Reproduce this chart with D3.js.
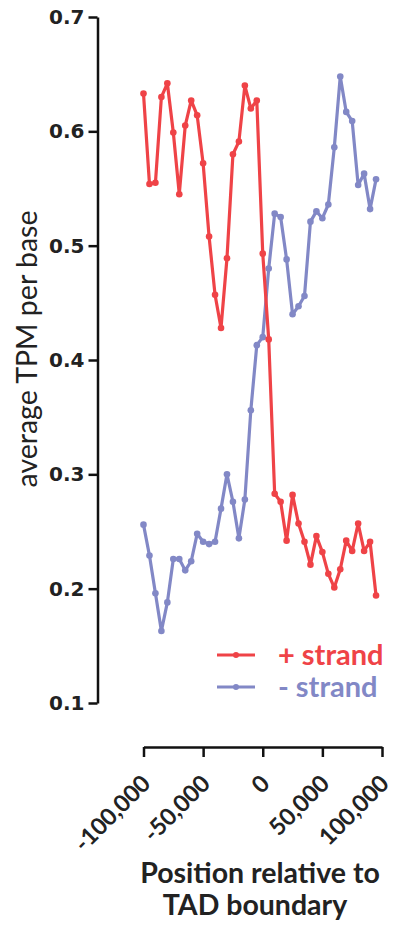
<!DOCTYPE html>
<html>
<head>
<meta charset="utf-8">
<script src="https://cdn.jsdelivr.net/npm/d3@7"></script>
<style>
  html, body { margin: 0; padding: 0; background: #fff; }
  svg { display: block; }
</style>
</head>
<body>
<svg id="chart" width="394" height="925"></svg>
<script>
// Positions (bp from TAD boundary), one bin every 5 kb
const positions = d3.range(-100000, 100000, 5000);

// Average TPM per base, + strand
const plusStrand = [
  0.633, 0.554, 0.555, 0.630, 0.642, 0.599, 0.545, 0.605, 0.627, 0.614,
  0.572, 0.508, 0.457, 0.428, 0.489, 0.580, 0.591, 0.640, 0.620, 0.627,
  0.493, 0.418, 0.283, 0.276, 0.242, 0.282, 0.257, 0.241, 0.221, 0.246,
  0.232, 0.213, 0.201, 0.217, 0.242, 0.233, 0.257, 0.233, 0.241, 0.194
];

// Average TPM per base, - strand
const minusStrand = [
  0.256, 0.229, 0.196, 0.163, 0.188, 0.226, 0.226, 0.216, 0.224, 0.248,
  0.241, 0.239, 0.241, 0.270, 0.300, 0.276, 0.244, 0.278, 0.356, 0.413,
  0.420, 0.480, 0.528, 0.525, 0.488, 0.440, 0.447, 0.456, 0.521, 0.530,
  0.524, 0.536, 0.586, 0.648, 0.617, 0.609, 0.553, 0.563, 0.532, 0.558
];

const xTicks = [-100000, -50000, 0, 50000, 100000];
const yTicks = [0.1, 0.2, 0.3, 0.4, 0.5, 0.6, 0.7];
const seriesNames = ["+ strand", "- strand"];

const RED = "#ef4347";
const BLUE = "#8288c6";

const svg = d3.select("#chart");

const x = d3.scaleLinear().domain([-100000, 100000]).range([143.5, 382]);
const y = d3.scaleLinear().domain([0.1, 0.7]).range([703, 17]);

const tickFont = "'DejaVu Sans', sans-serif";
const textFont = "Lato, sans-serif";

// thousands separator with a plain hyphen for negatives
const fmtX = d => d3.format(",")(d).replace("\u2212", "-");

// Y axis, drawn on its own offset from the plot
const yAxis = svg.append("g")
  .attr("transform", "translate(97.5,0)")
  .call(d3.axisLeft(y).tickValues(yTicks).tickFormat(d3.format(".1f")).tickSize(9).tickSizeOuter(0));
yAxis.select(".domain").attr("stroke", "#111").attr("stroke-width", 2.5);
yAxis.selectAll(".tick line").attr("stroke", "#111").attr("stroke-width", 2.5);
yAxis.selectAll(".tick text")
  .attr("x", -13)
  .attr("font-family", tickFont)
  .attr("font-weight", "bold")
  .attr("font-size", 20)
  .attr("fill", "#222");

// X axis below the plot
const xAxis = svg.append("g")
  .attr("transform", "translate(0,747)")
  .call(d3.axisBottom(x).tickValues(xTicks).tickFormat(fmtX).tickSize(10).tickSizeOuter(0));
xAxis.select(".domain").attr("stroke", "#111").attr("stroke-width", 2.5);
xAxis.selectAll(".tick line").attr("stroke", "#111").attr("stroke-width", 2.5);
xAxis.selectAll(".tick text")
  .attr("font-family", textFont)
  .attr("font-weight", "bold")
  .attr("font-size", 23.5)
  .attr("fill", "#222")
  .attr("text-anchor", "end")
  .attr("dy", null)
  .attr("y", 0)
  .attr("transform", "translate(8,38) rotate(-45)");

// Axis titles
svg.append("text")
  .attr("transform", "translate(37,349) rotate(-90)")
  .attr("text-anchor", "middle")
  .attr("font-family", textFont)
  .attr("font-size", 28.5)
  .attr("fill", "#222")
  .text("average TPM per base");

svg.append("text")
  .attr("x", 260).attr("y", 883)
  .attr("text-anchor", "middle")
  .attr("font-family", textFont)
  .attr("font-weight", "bold")
  .attr("font-size", 28.5)
  .attr("fill", "#222")
  .text("Position relative to");
svg.append("text")
  .attr("x", 255).attr("y", 915)
  .attr("text-anchor", "middle")
  .attr("font-family", textFont)
  .attr("font-weight", "bold")
  .attr("font-size", 28.5)
  .attr("fill", "#222")
  .text("TAD boundary");

// Series lines with point markers
const line = d3.line().x((d, i) => x(positions[i])).y(d => y(d));
const series = [
  { name: seriesNames[0], values: plusStrand, color: RED },
  { name: seriesNames[1], values: minusStrand, color: BLUE }
];

// draw the - strand first so the + strand sits on top where they cross
[series[1], series[0]].forEach(s => {
  const g = svg.append("g");
  g.append("path")
    .datum(s.values)
    .attr("fill", "none")
    .attr("stroke", s.color)
    .attr("stroke-width", 3.2)
    .attr("stroke-linejoin", "round")
    .attr("d", line);
  g.selectAll("circle")
    .data(s.values)
    .join("circle")
    .attr("cx", (d, i) => x(positions[i]))
    .attr("cy", d => y(d))
    .attr("r", 3.3)
    .attr("fill", s.color);
});

// Legend
const legend = svg.append("g");
series.forEach((s, i) => {
  const ly = 655 + i * 32;
  legend.append("line")
    .attr("x1", 217).attr("x2", 255)
    .attr("y1", ly).attr("y2", ly)
    .attr("stroke", s.color).attr("stroke-width", 3);
  legend.append("circle")
    .attr("cx", 236).attr("cy", ly).attr("r", 3)
    .attr("fill", s.color);
  legend.append("text")
    .attr("x", 278).attr("y", ly + 10)
    .attr("font-family", textFont)
    .attr("font-weight", "bold")
    .attr("font-size", 29)
    .attr("fill", s.color)
    .text(s.name);
});
</script>
</body>
</html>
